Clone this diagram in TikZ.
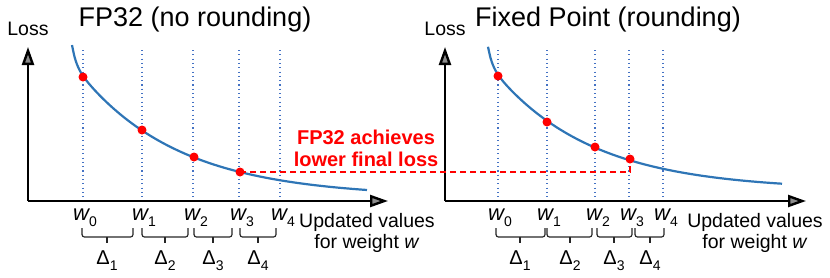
\documentclass[tikz,border=0pt]{standalone}
\usepackage{fontspec}
\setmainfont{Liberation Sans}
\usetikzlibrary{arrows.meta}
\definecolor{curveblue}{HTML}{2E75B6}
\definecolor{gridblue}{HTML}{4472C4}
\newcommand\wsub[1]{{\fontsize{22}{22}\selectfont\itshape w}\raisebox{-6pt}{\fontsize{14}{14}\selectfont #1}}
\newcommand\dsub[1]{{\fontsize{20}{20}\selectfont Δ}\raisebox{-6pt}{\fontsize{14}{14}\selectfont #1}}
\begin{document}
\begin{tikzpicture}[x=1pt,y=-1pt,
  axisline/.style={line width=2.8pt, -{Triangle[length=18pt,width=12pt,line width=2.4pt,fill=black!45]}},
  gridline/.style={gridblue, line width=1.1pt, dash pattern=on 1.1pt off 3.2pt},
  lossc/.style={curveblue, line width=2.2pt},
  pt/.style={circle, fill=red, inner sep=0pt, minimum size=9pt},
  brk/.style={line width=1.2pt, black!85, rounded corners=2.5pt},
  lossdash/.style={red, line width=1.4pt, dash pattern=on 6pt off 4pt},
  ttl/.style={font=\fontsize{27}{30}\selectfont},
  lbl/.style={font=\fontsize{19.5}{21}\selectfont, align=center},
  note/.style={red, font=\fontsize{20}{22}\selectfont\bfseries, align=center},
  wl/.style={inner sep=0pt},
]
\useasboundingbox (0,0) rectangle (830,277);

% ---------- left chart ----------
\coordinate (oL) at (28,201);
\coordinate (yL) at (28,47);
\coordinate (xL) at (388,201);
\foreach \x [count=\i from 0] in {83,142,193,239,280}{
  \coordinate (gLt\i) at (\x,50);
  \coordinate (gLb\i) at (\x,201);
  \draw[gridline] (gLt\i) -- (gLb\i);
}
\node[ttl] (titleL) at (195,20) {FP32 (no rounding)};
\node[lbl] (lossL) at (28,29) {Loss};
\coordinate (a0) at (83,77);
\coordinate (a1) at (142,130);
\coordinate (a2) at (194,157);
\coordinate (a3) at (240,172);
\draw[lossc] plot[domain=72:367, samples=120, smooth]
  (\x, {197-120*exp(-0.01*(\x-83))-18*exp(-0.25*(\x-72))});
\draw[axisline] (oL) -- (yL);
\draw[axisline] (oL) -- (xL);
\foreach \x [count=\i from 0] in {85,144,196,242,283}{
  \node[wl] (wL\i) at (\x,218) {\wsub{\i}};
}
\foreach \a/\b/\m [count=\i] in {82/133/107,142/188/165,194/232/213,240/276/258}{
  \coordinate (bLs\i) at (\a,228);
  \coordinate (bLe\i) at (\b,228);
  \coordinate (bLm\i) at (\m,237);
  \coordinate (bLt\i) at (\m,243);
  \draw[brk] (bLs\i) |- (bLm\i) -- (bLe\i |- bLm\i) -- (bLe\i);
  \draw[brk] (bLm\i) -- (bLt\i);
  \node[wl] (dL\i) at (\m,261) {\dsub{\i}};
}
\node[lbl] (updL) at (367,233) {Updated values\\for weight \textit{w}};

% ---------- right chart ----------
\coordinate (oR) at (445,201);
\coordinate (yR) at (445,47);
\coordinate (xR) at (806,201);
\foreach \x [count=\i from 0] in {498,547,595,629,663}{
  \coordinate (gRt\i) at (\x,50);
  \coordinate (gRb\i) at (\x,201);
  \draw[gridline] (gRt\i) -- (gRb\i);
}
\node[ttl] (titleR) at (608,20) {Fixed Point (rounding)};
\node[lbl] (lossR) at (445,29) {Loss};
\coordinate (b0) at (498,76);
\coordinate (b1) at (547,122);
\coordinate (b2) at (595,147);
\coordinate (b3) at (630,159);
\draw[lossc] plot[domain=488:782, samples=120, smooth]
  (\x, {190-114*exp(-0.0102*(\x-498))-17*exp(-0.25*(\x-488))});
\draw[axisline] (oR) -- (yR);
\draw[axisline] (oR) -- (xR);
\foreach \x [count=\i from 0] in {500,549,598,632,666}{
  \node[wl] (wR\i) at (\x,218) {\wsub{\i}};
}
\foreach \a/\b/\m [count=\i] in {496/545/520,547/592/570,597/632/614,635/664/650}{
  \coordinate (bRs\i) at (\a,228);
  \coordinate (bRe\i) at (\b,228);
  \coordinate (bRm\i) at (\m,237);
  \coordinate (bRt\i) at (\m,243);
  \draw[brk] (bRs\i) |- (bRm\i) -- (bRe\i |- bRm\i) -- (bRe\i);
  \draw[brk] (bRm\i) -- (bRt\i);
  \node[wl] (dR\i) at (\m,261) {\dsub{\i}};
}
\node[lbl] (updR) at (755,233) {Updated values\\for weight \textit{w}};

% ---------- comparison ----------
\draw[lossdash] (a3) -- (a3 -| b3) -- (b3);
\foreach \p in {a0,a1,a2,a3,b0,b1,b2,b3}{
  \node[pt] (d\p) at (\p) {};
}
\node[note] (note) at (366,148) {FP32 achieves\\lower final loss};
\end{tikzpicture}
\end{document}
